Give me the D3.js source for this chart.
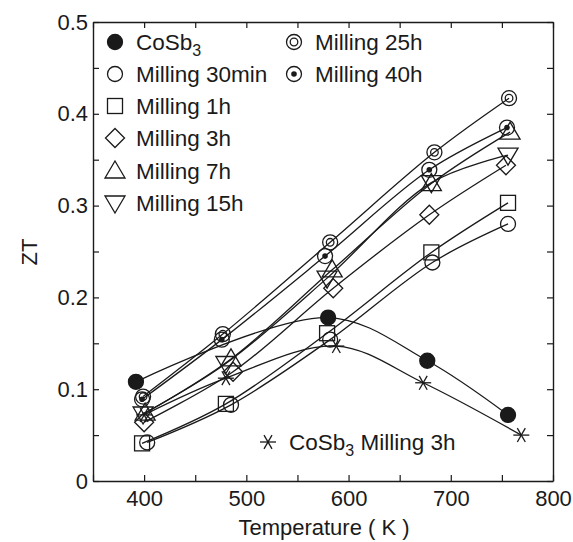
<!DOCTYPE html>
<html>
<head>
<meta charset="utf-8">
<script src="https://cdn.jsdelivr.net/npm/d3@7"></script>
<style>
  body { margin: 0; background: #fff; }
  svg { display: block; font-family: "Liberation Sans", Arial, sans-serif; }
</style>
</head>
<body>
<svg id="chart" width="573" height="542"></svg>
<script>
// ZT vs temperature
const cosb3T   = [392, 580, 677, 756];
const cosb3ZT  = [0.108, 0.178, 0.131, 0.072];
const m30T     = [403, 485, 582, 682, 756];
const m30ZT    = [0.042, 0.083, 0.154, 0.238, 0.280];
const m1hT     = [398, 480, 579, 681, 756];
const m1hZT    = [0.041, 0.084, 0.161, 0.249, 0.303];
const m3hT     = [400, 487, 585, 679, 754];
const m3hZT    = [0.064, 0.119, 0.210, 0.290, 0.344];
const m7hT     = [401, 485, 584, 681, 758];
const m7hZT    = [0.074, 0.133, 0.230, 0.324, 0.380];
const m15hT    = [399, 480, 579, 681, 756];
const m15hZT   = [0.073, 0.128, 0.221, 0.325, 0.355];
const m25hT    = [399, 477, 582, 684, 757];
const m25hZT   = [0.092, 0.160, 0.260, 0.358, 0.417];
const m40hT    = [398, 476, 577, 679, 755];
const m40hZT   = [0.089, 0.154, 0.245, 0.339, 0.385];
const starT    = [400, 480, 588, 673, 769];
const starZT   = [0.072, 0.112, 0.147, 0.107, 0.050];

const xTicks = [400, 500, 600, 700, 800];
const yTicks = [0, 0.1, 0.2, 0.3, 0.4, 0.5];

// table built from the arrays above
const series = [
  { name: "CoSb3", marker: "filled", T: cosb3T, ZT: cosb3ZT },
  { name: "Milling 30min", marker: "circle", T: m30T, ZT: m30ZT },
  { name: "Milling 1h", marker: "square", T: m1hT, ZT: m1hZT },
  { name: "Milling 3h", marker: "diamond", T: m3hT, ZT: m3hZT },
  { name: "Milling 7h", marker: "triUp", T: m7hT, ZT: m7hZT },
  { name: "Milling 15h", marker: "triDown", T: m15hT, ZT: m15hZT },
  { name: "Milling 25h", marker: "dblCircle", T: m25hT, ZT: m25hZT },
  { name: "Milling 40h", marker: "dotCircle", T: m40hT, ZT: m40hZT },
  { name: "CoSb3 Milling 3h", marker: "star", T: starT, ZT: starZT }
];

const ink = "#1a1a1a";
const svg = d3.select("#chart");

const x = d3.scaleLinear().domain([350, 800]).range([93, 553]);
const y = d3.scaleLinear().domain([0, 0.5]).range([481, 22]);

// axes: ticks pointing inward, minor every 50 K / 0.05
const xAll = d3.range(350, 801, 50);
const yAll = d3.range(0, 0.501, 0.05);

function styleAxis(g) {
  g.select(".domain").attr("stroke", ink).attr("stroke-width", 1.4);
  g.selectAll(".tick line").attr("stroke", ink).attr("stroke-width", 1.2);
  g.selectAll(".tick text").attr("fill", ink).attr("font-size", 22)
    .attr("font-family", "Liberation Sans, Arial, sans-serif");
}

svg.append("g")
  .attr("transform", "translate(0," + y(0) + ")")
  .call(d3.axisBottom(x).tickValues(xAll).tickSizeInner(-6).tickSizeOuter(0).tickPadding(9)
    .tickFormat(d => xTicks.includes(d) ? d : ""))
  .call(styleAxis);

svg.append("g")
  .attr("transform", "translate(0," + y(0.5) + ")")
  .call(d3.axisTop(x).tickValues(xAll).tickSizeInner(-6).tickSizeOuter(0).tickFormat(""))
  .call(styleAxis);

svg.append("g")
  .attr("transform", "translate(" + x(350) + ",0)")
  .call(d3.axisLeft(y).tickValues(yAll).tickSizeInner(-6).tickSizeOuter(0).tickPadding(5)
    .tickFormat(d => {
      const r = Math.round(d * 100) / 100;
      return yTicks.some(t => Math.abs(t - r) < 1e-6) ? (r === 0 ? "0" : r.toFixed(1)) : "";
    }))
  .call(styleAxis);

svg.append("g")
  .attr("transform", "translate(" + x(800) + ",0)")
  .call(d3.axisRight(y).tickValues(yAll).tickSizeInner(-6).tickSizeOuter(0).tickFormat(""))
  .call(styleAxis);

// axis titles
svg.append("text")
  .attr("x", 324).attr("y", 535)
  .attr("text-anchor", "middle")
  .attr("font-size", 22).attr("fill", ink)
  .text("Temperature ( K )");

svg.append("text")
  .attr("transform", "translate(37,252) rotate(-90)")
  .attr("text-anchor", "middle")
  .attr("font-size", 22).attr("fill", ink)
  .text("ZT");

// markers
function drawMarker(g, type, cx, cy) {
  const s = g.append("g").attr("transform", "translate(" + cx + "," + cy + ")")
    .attr("stroke", ink).attr("stroke-width", 1.3).attr("fill", "none");
  if (type === "filled") {
    s.append("circle").attr("r", 7.5).attr("fill", ink);
  } else if (type === "circle") {
    s.append("circle").attr("r", 7.5);
  } else if (type === "square") {
    s.append("rect").attr("x", -7.5).attr("y", -7.5).attr("width", 15).attr("height", 15);
  } else if (type === "diamond") {
    s.append("path").attr("d", "M0,-9.5L9.5,0L0,9.5L-9.5,0Z");
  } else if (type === "triUp") {
    s.append("path").attr("d", "M0,-10L10,7L-10,7Z");
  } else if (type === "triDown") {
    s.append("path").attr("d", "M0,10L10,-7L-10,-7Z");
  } else if (type === "dblCircle") {
    s.append("circle").attr("r", 7.5);
    s.append("circle").attr("r", 3.8);
  } else if (type === "dotCircle") {
    s.append("circle").attr("r", 7.5);
    s.append("circle").attr("r", 2.8).attr("fill", ink).attr("stroke", "none");
  } else if (type === "star") {
    const r = 8;
    [0, 60, 120].forEach(a => {
      const rad = a * Math.PI / 180;
      s.append("line")
        .attr("x1", -r * Math.cos(rad)).attr("y1", -r * Math.sin(rad))
        .attr("x2", r * Math.cos(rad)).attr("y2", r * Math.sin(rad));
    });
  }
}

const line = d3.line()
  .x(d => x(d[0]))
  .y(d => y(d[1]))
  .curve(d3.curveCatmullRom.alpha(0.5));

const plot = svg.append("g");

series.forEach(s => {
  const pts = s.T.map((t, i) => [t, s.ZT[i]]);
  plot.append("path")
    .datum(pts)
    .attr("fill", "none")
    .attr("stroke", ink)
    .attr("stroke-width", 1.3)
    .attr("d", line);
});

series.forEach(s => {
  s.T.forEach((t, i) => drawMarker(plot, s.marker, x(t), y(s.ZT[i])));
});

// legend
const legendPos = [
  [115, 42], [115, 74], [115, 106], [115, 138], [115, 171], [115, 203],
  [294, 42], [294, 74], [268, 442]
];

function addLabel(px, py, s) {
  const t = svg.append("text")
    .attr("x", px).attr("y", py)
    .attr("dy", "0.36em")
    .attr("font-size", 22.5).attr("fill", ink);
  if (s.name.startsWith("CoSb3")) {
    t.append("tspan").text("CoSb");
    t.append("tspan").attr("font-size", 16).attr("dy", 6).text("3");
    const rest = s.name.slice(5);
    if (rest) t.append("tspan").attr("dy", -6).text(rest);
  } else {
    t.text(s.name);
  }
}

series.forEach((s, i) => {
  const [lx, ly] = legendPos[i];
  drawMarker(svg, s.marker, lx, ly);
  addLabel(lx + 21, ly, s);
});
</script>
</body>
</html>
